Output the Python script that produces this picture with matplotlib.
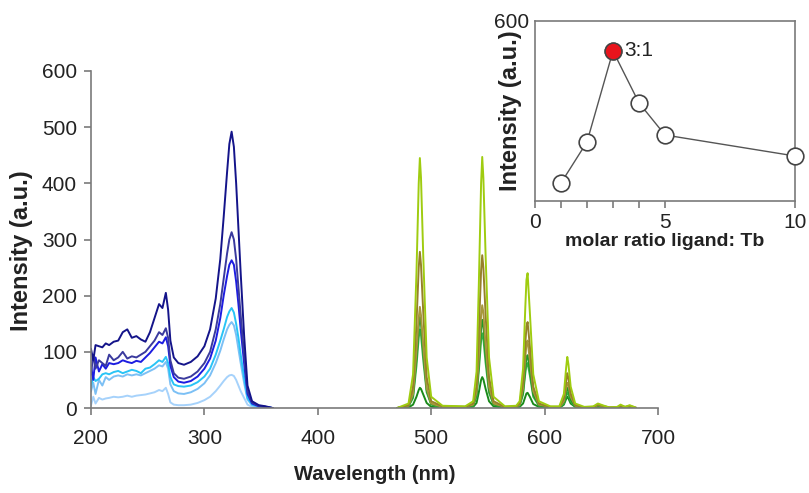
import matplotlib
matplotlib.use("Agg")
import matplotlib.pyplot as plt

plt.rcParams['font.family'] = ['Liberation Sans', 'DejaVu Sans']

# ---------------- excitation spectra (blue) ----------------
ex_wl = [200, 202, 204, 207, 210, 213, 216, 220, 224, 228, 232, 236, 240, 244, 248, 252, 256, 260, 263, 266,
         268, 270, 273, 277, 282, 288, 294, 300, 305, 310, 314, 317, 320, 322, 324, 326, 328, 330, 332, 335,
         338, 342, 348, 354, 360]
ex_navy = [105, 85, 112, 110, 108, 115, 112, 118, 120, 135, 140, 125, 128, 122, 118, 135, 160, 185, 178, 205,
           175, 120, 90, 80, 77, 82, 92, 110, 140, 195, 265, 340, 420, 470, 492, 465, 400, 320, 240, 130,
           40, 12, 5, 3, 0]
ex_slate = [60, 95, 70, 85, 80, 75, 95, 85, 90, 100, 88, 92, 90, 95, 100, 110, 120, 135, 130, 142,
            125, 85, 62, 54, 52, 56, 65, 80, 100, 140, 185, 230, 275, 300, 313, 300, 265, 215, 165, 95,
            30, 10, 4, 2, 0]
ex_blue = [75, 50, 90, 65, 78, 70, 80, 78, 80, 85, 82, 80, 84, 82, 90, 98, 108, 118, 115, 126,
           110, 75, 55, 47, 45, 48, 56, 70, 88, 120, 160, 200, 235, 255, 263, 255, 225, 185, 140, 80,
           25, 8, 3, 2, 0]
ex_cyan = [40, 55, 48, 52, 60, 62, 60, 64, 66, 62, 65, 68, 66, 62, 70, 72, 78, 85, 82, 91,
           80, 55, 42, 39, 38, 40, 46, 56, 70, 95, 120, 140, 162, 172, 178, 170, 150, 125, 95, 55,
           18, 6, 3, 2, 0]
ex_light = [30, 45, 25, 50, 40, 55, 50, 56, 58, 56, 60, 58, 60, 58, 62, 66, 70, 76, 74, 82,
            70, 42, 30, 26, 25, 28, 34, 44, 58, 80, 102, 122, 140, 148, 153, 147, 130, 105, 80, 45,
            15, 5, 2, 1, 0]
ex_pale = [5, 20, 8, 18, 15, 17, 18, 20, 19, 20, 22, 20, 22, 23, 24, 26, 28, 32, 30, 36,
           25, 10, 6, 5, 5, 6, 9, 14, 20, 30, 40, 48, 55, 58, 59, 57, 50, 40, 30, 18,
           6, 2, 1, 0, 0]

# ---------------- emission spectra (green) ----------------
em_wl = [470, 480, 484, 487, 489, 490, 491, 493, 496, 500, 510, 530, 537, 540, 542, 544, 545, 546, 548, 551,
         555, 565, 575, 578, 581, 583, 584, 585, 587, 590, 595, 605, 613, 617, 619, 620, 621, 623, 627, 635,
         643, 647, 651, 657, 664, 667, 671, 675, 680]
em_ygreen = [0, 8, 60, 240, 400, 445, 410, 270, 90, 20, 4, 3, 12, 65, 220, 400, 447, 410, 270, 90,
             20, 3, 4, 12, 70, 180, 228, 240, 170, 60, 12, 3, 3, 25, 72, 91, 78, 38, 8, 2,
             3, 8, 5, 1, 2, 6, 2, 5, 1]
em_olive = [0, 5, 38, 150, 250, 278, 255, 170, 55, 12, 3, 2, 8, 40, 135, 245, 272, 250, 165, 55,
            12, 2, 3, 8, 45, 115, 145, 153, 110, 38, 8, 2, 2, 17, 48, 62, 53, 26, 5, 1,
            2, 6, 4, 1, 1, 4, 2, 4, 1]
em_olive2 = [0, 4, 25, 100, 160, 180, 165, 110, 35, 8, 2, 2, 6, 28, 90, 165, 183, 170, 110, 38,
             8, 2, 2, 6, 35, 90, 114, 120, 85, 30, 6, 2, 1, 12, 36, 45, 40, 20, 4, 1,
             1, 5, 3, 1, 1, 3, 1, 3, 0]
em_green = [0, 3, 22, 88, 145, 162, 150, 100, 32, 7, 2, 1, 5, 24, 78, 140, 157, 146, 95, 32,
            7, 1, 2, 5, 28, 72, 90, 94, 68, 24, 5, 1, 1, 10, 28, 36, 31, 15, 3, 1,
            1, 4, 3, 0, 1, 3, 1, 3, 0]
em_green2 = [0, 3, 18, 75, 125, 140, 130, 85, 28, 6, 1, 1, 4, 20, 66, 120, 133, 123, 80, 27,
             6, 1, 1, 4, 24, 62, 77, 80, 58, 20, 4, 1, 1, 8, 22, 28, 24, 12, 2, 0,
             1, 3, 2, 0, 1, 2, 1, 2, 0]
em_dgreen = [0, 1, 6, 20, 32, 36, 34, 24, 9, 2, 1, 0, 2, 9, 28, 50, 55, 51, 34, 12,
             3, 0, 1, 2, 8, 20, 26, 27, 20, 7, 2, 0, 0, 6, 16, 20, 17, 8, 2, 0,
             0, 2, 1, 0, 0, 1, 0, 1, 0]

# ---------------- inset data ----------------
ratios = [1, 2, 3, 4, 5, 10]
ratio_intensity = [60, 197, 500, 327, 220, 150]
highlight_label = "3:1"
highlight_index = 2

TXT = '#222222'
AX = '#7a7a7a'

fig = plt.figure(figsize=(8.09, 4.93), dpi=100)
ax = fig.add_axes([91/809, 1-408/493, 567/809, 337/493])

ex_series = [(ex_pale, '#a6d2fb'), (ex_light, '#7cc0f5'), (ex_cyan, '#29c4f6'),
             (ex_blue, '#1d1de0'), (ex_slate, '#3a3a9e'), (ex_navy, '#14148a')]
for vals, c in ex_series:
    ax.plot(ex_wl, vals, color=c, lw=1.4)

em_series = [(em_dgreen, '#1a8a1a'), (em_green2, '#3cb043'), (em_green, '#1f9a26'),
             (em_olive2, '#a8983a'), (em_olive, '#96802a'), (em_ygreen, '#9fcc10')]
for vals, c in em_series:
    ax.plot(em_wl, vals, color=c, lw=1.4)

ax.set_xlim(200, 700)
ax.set_ylim(0, 600)
ax.set_xticks([200, 300, 400, 500, 600, 700])
ax.set_yticks([0, 100, 200, 300, 400, 500, 600])
for s in ['top', 'right']:
    ax.spines[s].set_visible(False)
for s in ['left', 'bottom']:
    ax.spines[s].set_color(AX)
    ax.spines[s].set_linewidth(1.2)
ax.tick_params(axis='both', direction='out', length=5, width=1.2, color=AX,
               labelsize=15, labelcolor=TXT)
ax.tick_params(axis='x', pad=10)
ax.tick_params(axis='y', pad=5)
ax.set_xlabel('Wavelength (nm)', fontsize=14.5, fontweight='bold', color=TXT, labelpad=12)
ax.set_ylabel('Intensity (a.u.)', fontsize=17, fontweight='bold', color=TXT)
ax.yaxis.set_label_coords((33-91)/567, (408-251)/337)

# ---------------- inset ----------------
ins = fig.add_axes([535/809, 1-201/493, 260/809, 180/493])
ins.set_facecolor('white')
ins.plot(ratios, ratio_intensity, color='#555555', lw=1.0, zorder=2, clip_on=False)
ins.plot(ratios, ratio_intensity, 'o', ms=12, mfc='white', mec='#444444', mew=1.2,
         zorder=3, clip_on=False)
ins.plot([ratios[highlight_index]], [ratio_intensity[highlight_index]], 'o', ms=12,
         mfc='#e8141c', mec='#444444', mew=1.0, zorder=4, clip_on=False)
ins.annotate(highlight_label, (ratios[highlight_index], ratio_intensity[highlight_index]),
             xytext=(8, 0), textcoords='offset points', va='center', ha='left',
             fontsize=15, color=TXT)
ins.set_xlim(0, 10)
ins.set_ylim(0, 600)
ins.set_xticks([0, 1, 2, 3, 4, 5, 10])
ins.set_xticklabels(['0', '', '', '', '', '5', '10'])
ins.set_yticks([600])
ins.set_yticklabels(['600'])
for s in ins.spines.values():
    s.set_color(AX)
    s.set_linewidth(1.2)
ins.tick_params(axis='both', direction='out', length=5, width=1.2, color=AX,
                labelsize=15, labelcolor=TXT)
ins.tick_params(axis='y', length=0, pad=4)
ins.set_xlabel('molar ratio ligand: Tb', fontsize=14, fontweight='bold', color=TXT, labelpad=1)
ins.set_ylabel('Intensity (a.u.)', fontsize=17, fontweight='bold', color=TXT)
ins.yaxis.set_label_coords((522-535)/260, 0.5)

fig.savefig('out.png', dpi=100)
